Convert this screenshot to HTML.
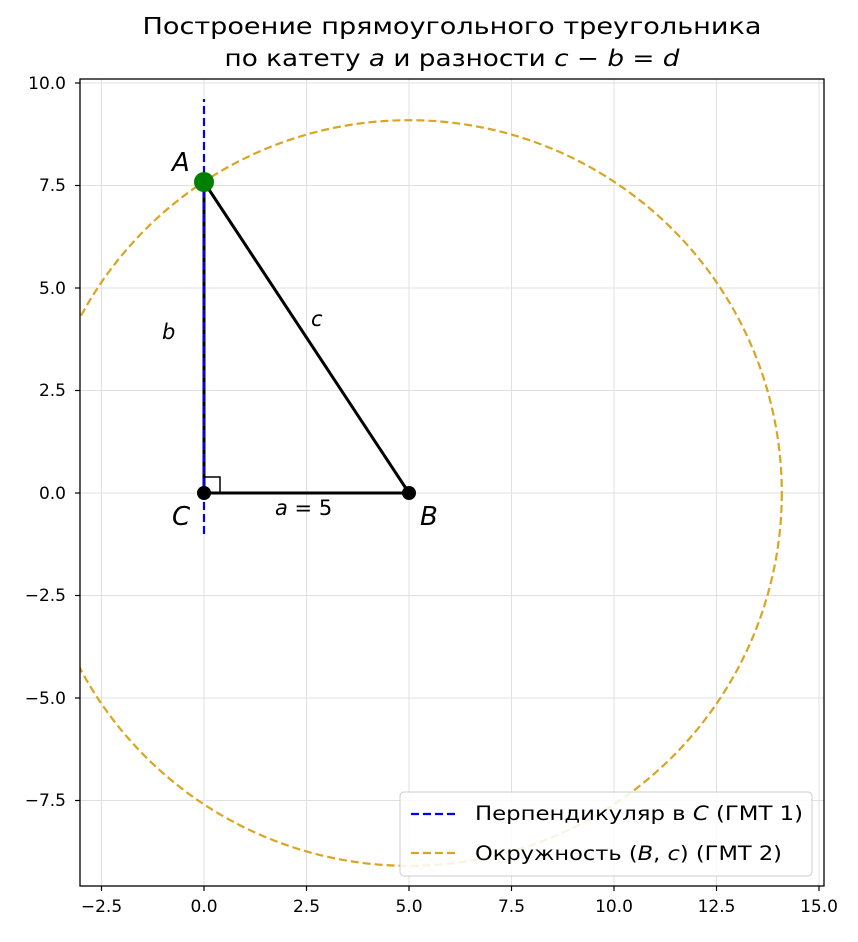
<!DOCTYPE html>
<html><head><meta charset="utf-8"><style>body{margin:0;background:#fff}</style></head><body>
<svg width="858" height="937" xmlns="http://www.w3.org/2000/svg" font-family="'DejaVu Sans','Liberation Sans',sans-serif">
<defs><clipPath id="c"><rect x="80" y="79" width="744" height="807"/></clipPath></defs>
<text x="452" y="34" font-size="23" text-anchor="middle" textLength="619" lengthAdjust="spacingAndGlyphs">Построение прямоугольного треугольника</text>
<text x="452" y="66" font-size="23" text-anchor="middle" textLength="455" lengthAdjust="spacingAndGlyphs">по катету <tspan font-style="italic">a</tspan> и разности <tspan font-style="italic">c</tspan> − <tspan font-style="italic">b</tspan> = <tspan font-style="italic">d</tspan></text>
<g stroke="#e0e0e0" stroke-width="1">
<line x1="101.5" y1="79" x2="101.5" y2="886"/><line x1="204" y1="79" x2="204" y2="886"/><line x1="306.5" y1="79" x2="306.5" y2="886"/><line x1="409" y1="79" x2="409" y2="886"/><line x1="511.5" y1="79" x2="511.5" y2="886"/><line x1="614" y1="79" x2="614" y2="886"/><line x1="716.5" y1="79" x2="716.5" y2="886"/><line x1="819" y1="79" x2="819" y2="886"/>
<line x1="80" y1="83" x2="824" y2="83"/><line x1="80" y1="185.5" x2="824" y2="185.5"/><line x1="80" y1="288" x2="824" y2="288"/><line x1="80" y1="390.5" x2="824" y2="390.5"/><line x1="80" y1="493" x2="824" y2="493"/><line x1="80" y1="595.5" x2="824" y2="595.5"/><line x1="80" y1="698" x2="824" y2="698"/><line x1="80" y1="800.5" x2="824" y2="800.5"/>
</g>
<g clip-path="url(#c)">
<circle cx="409" cy="493" r="372.8" fill="none" stroke="#daa520" stroke-width="2.2" stroke-dasharray="8,4"/>
<line x1="204" y1="493" x2="204" y2="182" stroke="#000" stroke-width="3"/>
<line x1="204" y1="182" x2="409" y2="493" stroke="#000" stroke-width="3"/>
<line x1="204" y1="493" x2="409" y2="493" stroke="#000" stroke-width="3"/>
<line x1="204" y1="534" x2="204" y2="99" stroke="#0000ff" stroke-width="2.2" stroke-dasharray="8,4"/>
<polyline points="204,477 220,477 220,493" fill="none" stroke="#000" stroke-width="1.5"/>
<circle cx="204" cy="493" r="7" fill="#000"/><circle cx="409" cy="493" r="7" fill="#000"/><circle cx="204" cy="182" r="10" fill="#008000"/>
</g>
<rect x="80" y="79" width="744" height="807" fill="none" stroke="#000" stroke-width="1.3"/>
<g font-size="17" text-anchor="middle">
<text x="101.5" y="912">−2.5</text><text x="204" y="912">0.0</text><text x="306.5" y="912">2.5</text><text x="409" y="912">5.0</text><text x="511.5" y="912">7.5</text><text x="614" y="912">10.0</text><text x="716.5" y="912">12.5</text><text x="819" y="912">15.0</text>
</g>
<g font-size="17" text-anchor="end">
<text x="66" y="89">10.0</text><text x="66" y="191">7.5</text><text x="66" y="294">5.0</text><text x="66" y="396">2.5</text><text x="66" y="499">0.0</text><text x="66" y="601">−2.5</text><text x="66" y="704">−5.0</text><text x="66" y="806">−7.5</text>
</g>
<g stroke="#000" stroke-width="1.2">
<line x1="101.5" y1="886" x2="101.5" y2="891"/><line x1="204" y1="886" x2="204" y2="891"/><line x1="306.5" y1="886" x2="306.5" y2="891"/><line x1="409" y1="886" x2="409" y2="891"/><line x1="511.5" y1="886" x2="511.5" y2="891"/><line x1="614" y1="886" x2="614" y2="891"/><line x1="716.5" y1="886" x2="716.5" y2="891"/><line x1="819" y1="886" x2="819" y2="891"/>
<line x1="75" y1="83" x2="80" y2="83"/><line x1="75" y1="185.5" x2="80" y2="185.5"/><line x1="75" y1="288" x2="80" y2="288"/><line x1="75" y1="390.5" x2="80" y2="390.5"/><line x1="75" y1="493" x2="80" y2="493"/><line x1="75" y1="595.5" x2="80" y2="595.5"/><line x1="75" y1="698" x2="80" y2="698"/><line x1="75" y1="800.5" x2="80" y2="800.5"/>
</g>
<g font-style="italic">
<text x="172" y="171" font-size="26">A</text><text x="172" y="525" font-size="26">C</text><text x="420" y="525" font-size="26">B</text>
<text x="162" y="339" font-size="21">b</text><text x="311" y="326" font-size="21">c</text>
<text x="275" y="515" font-size="21">a <tspan font-style="normal">= 5</tspan></text>
</g>
<rect x="400" y="792" width="412" height="84" rx="4" fill="#fff" fill-opacity="0.85" stroke="#ccc"/>
<line x1="411" y1="814" x2="455" y2="814" stroke="#0000ff" stroke-width="2.2" stroke-dasharray="8,4"/>
<line x1="411" y1="853" x2="455" y2="853" stroke="#daa520" stroke-width="2.2" stroke-dasharray="8,4"/>
<text x="475" y="820" font-size="19.5" textLength="328" lengthAdjust="spacingAndGlyphs">Перпендикуляр в <tspan font-style="italic">C</tspan> (ГМТ 1)</text>
<text x="475" y="860" font-size="19.5" textLength="307" lengthAdjust="spacingAndGlyphs">Окружность (<tspan font-style="italic">B</tspan>, <tspan font-style="italic">c</tspan>) (ГМТ 2)</text>
</svg>
</body></html>
